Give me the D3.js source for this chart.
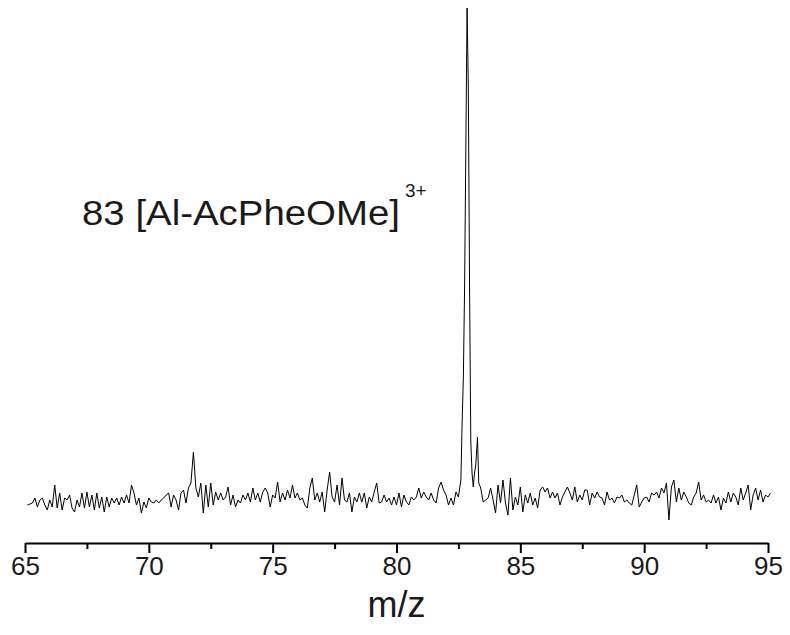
<!DOCTYPE html>
<html>
<head>
<meta charset="utf-8">
<script src="https://cdn.jsdelivr.net/npm/d3@7"></script>
<style>
  body { margin: 0; background: #fff; }
  svg text { font-family: "Liberation Sans", Arial, sans-serif; fill: #1a1a1a; }
</style>
</head>
<body>
<div id="chart"></div>
<script>
'use strict';

// Data: m/z sampled every 0.1 outside the main peak, intensity in arbitrary counts
var noiseStart = 65.1
var noiseStep = 0.1

// 65.1 .. 82.6
var noiseLeft = [
  22, 23, 24, 29, 20, 27, 29, 22, 17, 27, 20, 42, 19, 34, 17, 29, 27, 32, 19, 15,
  27, 20, 34, 19, 35, 20, 32, 17, 34, 19, 30, 15, 30, 20, 29, 24, 29, 22, 30, 24,
  32, 24, 42, 34, 22, 29, 14, 25, 19, 29, 25, 24, 27, 24, 27, 29, 32, 34, 20, 32,
  27, 17, 34, 37, 24, 39, 44, 75, 39, 30, 44, 14, 42, 20, 44, 22, 35, 27, 34, 27,
  30, 40, 22, 32, 20, 27, 24, 32, 27, 34, 25, 39, 27, 34, 25, 35, 39, 34, 20, 32,
  29, 45, 25, 34, 27, 37, 29, 42, 29, 34, 27, 29, 22, 19, 39, 49, 27, 34, 25, 35,
  15, 37, 55, 30, 25, 42, 22, 49, 27, 25, 34, 15, 30, 25, 34, 25, 34, 19, 30, 25,
  35, 44, 24, 25, 32, 25, 29, 22, 30, 22, 34, 20, 32, 25, 22, 30, 27, 30, 39, 29,
  35, 30, 27, 34, 27, 24, 39, 45, 37, 32, 22, 29, 22, 35, 30, 47
]

// main peak, 83 [Al-AcPheOMe]3+
var peakMz = [82.65, 82.7, 82.75, 82.8, 82.85, 82.9, 82.95, 83.0, 83.05, 83.1, 83.15, 83.2, 83.27, 83.32]
var peakInt = [104, 150, 240, 380, 519, 440, 240, 85, 54, 40, 54, 62, 90, 44]

// 83.4 .. 95.1
var noiseRightStart = 83.4
var noiseRight = [
  39, 25, 27, 29, 39, 27, 14, 42, 24, 47, 24, 12, 49, 17, 30, 22, 40, 15, 32, 24,
  34, 22, 29, 19, 37, 40, 35, 39, 29, 35, 29, 34, 22, 30, 35, 40, 34, 27, 40, 25,
  32, 27, 37, 37, 22, 34, 29, 35, 30, 29, 22, 35, 27, 29, 24, 30, 29, 32,
  25, 27, 24, 22, 32, 42, 20, 25, 29, 30, 25, 34, 32, 35, 29, 39, 34, 44, 7, 40,
  47, 25, 39, 27, 35, 30, 24, 22, 30, 34, 45, 27, 32, 25, 27, 24, 32, 24, 30, 17,
  29, 24, 35, 25, 34, 30, 22, 39, 27, 34, 42, 17, 32, 39, 27, 37, 25, 32, 30, 34
]

var xTicks = [65, 70, 75, 80, 85, 90, 95]
var xMinorTicks = [67.5, 72.5, 77.5, 82.5, 87.5, 92.5]
var xTitle = 'm/z'
var peakLabel = '83 [Al-AcPheOMe]'
var peakCharge = '3+'

function buildSpectrum() {
  var pts = []
  noiseLeft.forEach(function(v, i){ pts.push({ mz: noiseStart + i * noiseStep, y: v }) })
  peakMz.forEach(function(m, i){ pts.push({ mz: m, y: peakInt[i] }) })
  noiseRight.forEach(function(v, i){ pts.push({ mz: noiseRightStart + i * noiseStep, y: v }) })
  return pts
}

function draw() {
  var width = 790, height = 635
  var data = buildSpectrum()

  var x = d3.scaleLinear()
    .domain([65, 95])
    .range([25, 768])

  var y = d3.scaleLinear()
    .domain([0, 520])
    .range([527, 7])

  var svg = d3.select('#chart').append('svg')
    .attr('width', width)
    .attr('height', height)

  var line = d3.line()
    .x(function(d){ return x(d.mz) })
    .y(function(d){ return y(d.y) })

  svg.append('path')
    .datum(data)
    .attr('fill', 'none')
    .attr('stroke', '#000')
    .attr('stroke-width', 1)
    .attr('stroke-linejoin', 'round')
    .attr('d', line)

  // Axis: major + minor ticks
  var axisY = 543
  var gMinor = svg.append('g')
    .attr('transform', 'translate(0,' + axisY + ')')
    .call(d3.axisBottom(x).tickValues(xMinorTicks).tickSize(6).tickSizeOuter(0).tickFormat(''))
  gMinor.select('.domain').remove()

  var gx = svg.append('g')
    .attr('transform', 'translate(0,' + axisY + ')')
    .call(d3.axisBottom(x).tickValues(xTicks).tickSize(10).tickSizeOuter(0).tickPadding(4).tickFormat(d3.format('d')))

  svg.selectAll('.domain, .tick line')
    .attr('stroke', '#000')
    .attr('stroke-width', 2)

  gx.selectAll('.tick text')
    .attr('font-size', 26)
    .attr('font-family', '"Liberation Sans", Arial, sans-serif')
    .attr('fill', '#1a1a1a')

  svg.append('text')
    .attr('x', (x(65) + x(95)) / 2)
    .attr('y', 617)
    .attr('text-anchor', 'middle')
    .attr('font-size', 36)
    .text(xTitle)

  // Peak annotation
  svg.append('text')
    .attr('x', 82)
    .attr('y', 225)
    .attr('font-size', 35)
    .attr('textLength', 318)
    .attr('lengthAdjust', 'spacingAndGlyphs')
    .text(peakLabel)

  svg.append('text')
    .attr('x', 405)
    .attr('y', 197)
    .attr('font-size', 19)
    .text(peakCharge)
}

draw()
</script>
</body>
</html>
